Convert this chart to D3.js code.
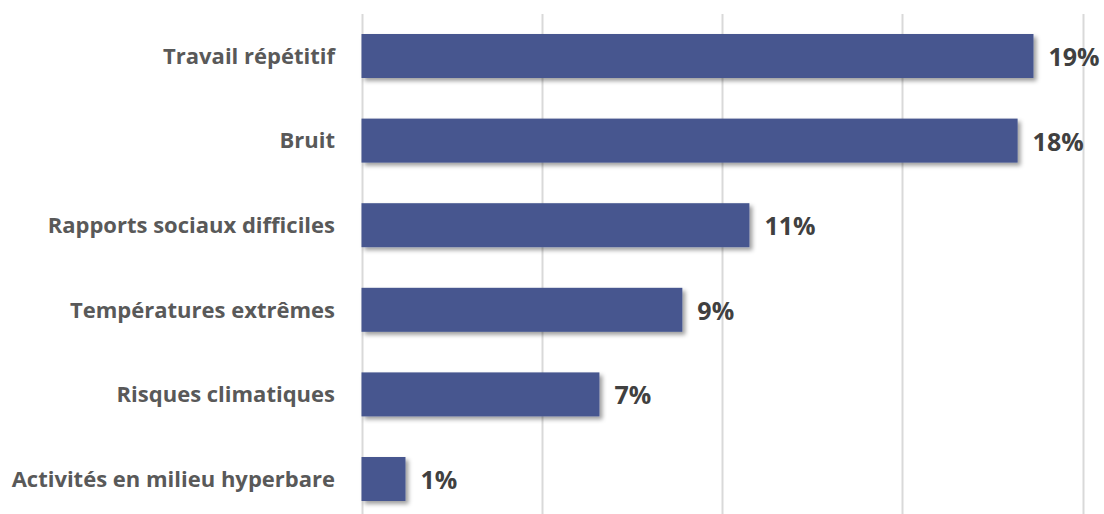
<!DOCTYPE html>
<html><head><meta charset="utf-8">
<script src="https://cdn.jsdelivr.net/npm/d3@7"></script>
<style>body{margin:0;background:#fff;} svg{display:block;}</style>
</head><body>
<script>
const categories = ["Travail répétitif","Bruit","Rapports sociaux difficiles","Températures extrêmes","Risques climatiques","Activités en milieu hyperbare"];
const values = [18.64, 18.2, 10.76, 8.9, 6.6, 1.22];
const valueLabels = ["19%","18%","11%","9%","7%","1%"];
const xTicks = [0,5,10,15,20];

const W=1104,H=514;
const svg=d3.select("body").append("svg").attr("width",W).attr("height",H);
const defs=svg.append("defs");
const f=defs.append("filter").attr("id","sh").attr("x","-10%").attr("y","-20%").attr("width","130%").attr("height","160%");
f.append("feDropShadow").attr("dx",3).attr("dy",3).attr("stdDeviation",2.2).attr("flood-color","#000").attr("flood-opacity",0.38);

const x=d3.scaleLinear().domain([0,20]).range([361.5,1082.5]);
const y=d3.scaleBand().domain(categories).range([13.7,521.3]).paddingInner(0.48).paddingOuter(0.24);

svg.append("g").selectAll("line").data(xTicks).join("line")
 .attr("x1",d=>Math.round(x(d))+0.5).attr("x2",d=>Math.round(x(d))+0.5)
 .attr("y1",14).attr("y2",H).attr("stroke","#d9d9d9").attr("stroke-width",2);

svg.append("g").selectAll("rect").data(values).join("rect")
 .attr("x",x(0)).attr("y",(d,i)=>y(categories[i]))
 .attr("width",d=>x(d)-x(0)).attr("height",y.bandwidth())
 .attr("fill","#46568f").attr("filter","url(#sh)");

svg.append("g").selectAll("text").data(categories).join("text")
 .attr("x",335).attr("y",d=>y(d)+y.bandwidth()/2).attr("dy","0.35em")
 .attr("text-anchor","end").attr("font-family","'Open Sans', sans-serif").attr("font-weight","bold")
 .attr("font-size",22).attr("fill","#595959").text(d=>d);

svg.append("g").selectAll("text").data(values).join("text")
 .attr("x",d=>x(d)+15).attr("y",(d,i)=>y(categories[i])+y.bandwidth()/2).attr("dy","0.4em")
 .attr("font-family","'Open Sans', sans-serif").attr("font-weight","bold")
 .attr("font-size",25).attr("fill","#404040").text((d,i)=>valueLabels[i]);
</script>
</body></html>
